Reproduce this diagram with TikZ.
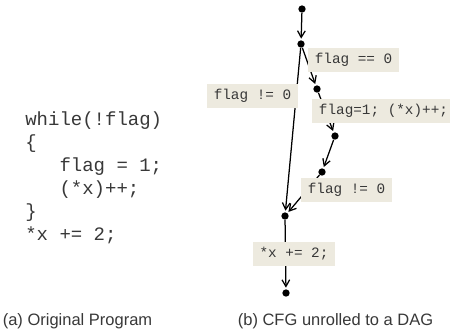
\documentclass[tikz,border=0pt]{standalone}
\usepackage{fontspec}
\setmainfont{Liberation Sans}
\setsansfont{Liberation Sans}
\setmonofont{Liberation Mono}
\usepackage{tikz}
\usetikzlibrary{arrows.meta,positioning}

\definecolor{lblbg}{HTML}{EDEADF}
\definecolor{txtgray}{HTML}{383838}

\tikzset{
  dot/.style={circle,fill=black,inner sep=0pt,minimum size=4.4pt},
  lbl/.style={fill=lblbg,text=txtgray,font=\ttfamily\fontsize{8.6}{10}\selectfont,
    inner xsep=4.2pt,inner ysep=0pt,minimum height=14.4pt},
  edge/.style={line width=0.75pt,-{Straight Barb[length=4pt,width=4.6pt,line width=0.75pt]},shorten >=0.8pt},
  capt/.style={font=\fontsize{9.9}{12}\selectfont,text=txtgray,inner sep=0pt}
}

\begin{document}
\begin{tikzpicture}[x=0.6pt,y=-0.6pt]
      \useasboundingbox (0,0) rectangle (450,333);

      % the program
      \node[anchor=west,inner sep=0pt,align=left,text=txtgray,
        font=\ttfamily\fontsize{11.4}{13.8}\selectfont](prog) at (25,178)
        {while(!flag)\\ \{\\ \phantom{xxx}flag = 1;\\ \phantom{xxx}(*x)++;\\ \}\\ *x += 2;};

      % the unrolled graph
      \node[dot](n0) at (302,9){};
      \node[dot](n1) at (301,44){};
      \node[dot](n2) at (317,89){};
      \node[dot](n3) at (335,136){};
      \node[dot](n4) at (322,172){};
      \node[dot](n5) at (285,216){};
      \node[dot](n6) at (286,293){};

      \draw[edge] (n0) -- (n1);
      \draw[edge] (n1) -- (n2);
      \draw[edge] (n1) -- (n5);
      \draw[edge] (n2) -- (n3);
      \draw[edge] (n3) -- (n4);
      \draw[edge] (n4) -- (n5);
      \draw[edge] (n5) -- (n6);

      \node[lbl](eq) at (353.5,59.5){flag == 0};
      \node[lbl](neq1) at (252.5,96){flag != 0};
      \node[lbl](body) at (383.5,111){flag=1; (*x)++;};
      \node[lbl](neq2) at (346.5,190){flag != 0};
      \node[lbl](tail) at (294,254){*x += 2;};

      \node[capt](capa) at (77.5,321){(a) Original Program};
      \node[capt](capb) at (335.5,321){(b) CFG unrolled to a DAG};
\end{tikzpicture}
\end{document}
